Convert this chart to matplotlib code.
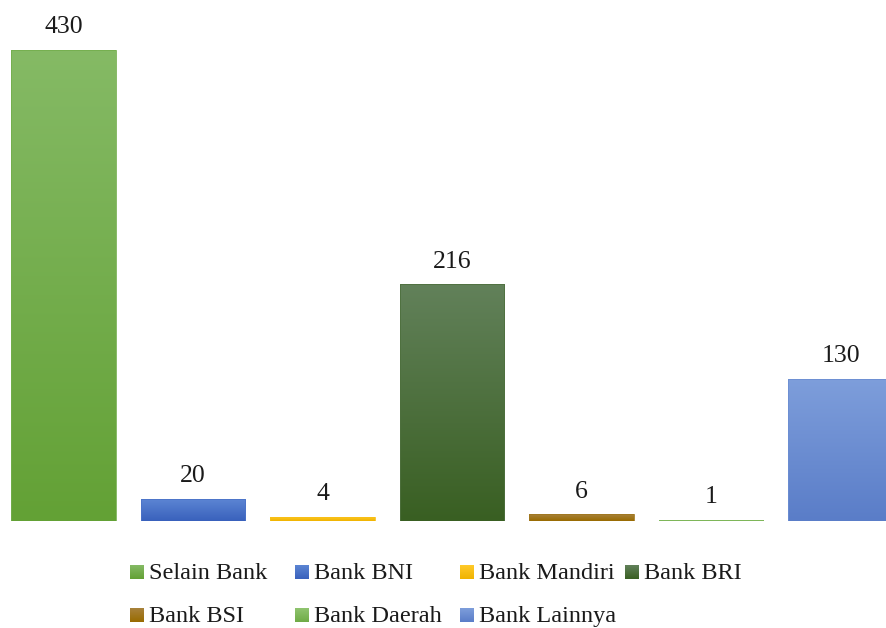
import numpy as np
import matplotlib
matplotlib.use("Agg")
import matplotlib.pyplot as plt
from matplotlib.colors import LinearSegmentedColormap, to_rgb

# Data
categories = ["Selain Bank", "Bank BNI", "Bank Mandiri", "Bank BRI",
              "Bank BSI", "Bank Daerah", "Bank Lainnya"]
values = [430, 20, 4, 216, 6, 1, 130]
top_colors = ["#85ba65", "#5c85d3", "#ffca2a", "#62815a",
              "#a8823c", "#90c470", "#7e9edb"]
bottom_colors = ["#63a135", "#3961bc", "#f0b300", "#395f22",
                 "#996b00", "#6fab46", "#5a7dc8"]

FONT = ["Liberation Serif", "DejaVu Serif"]
FS_LEGEND = 17.5
FS_VALUE = 18.5

W, H = 887, 628
fig = plt.figure(figsize=(W / 100, H / 100), dpi=100)
fig.patch.set_facecolor("white")

# Plot area: category slots span the full width, baseline near the bottom
slot = 129.5
left_px = 63.5 - 0.5 * slot
ax = fig.add_axes([left_px / W, (H - 521) / H, 7 * slot / W, 471 / H])
ax.set_xlim(-0.5, 6.5)
ax.set_ylim(0, max(values))
ax.axis("off")

x = np.arange(len(categories))
bars = ax.bar(x, values, width=0.81, color="none", edgecolor="none")

grad = np.linspace(1, 0, 256).reshape(-1, 1)
for bar, c_top, c_bot, v in zip(bars, top_colors, bottom_colors, values):
    cmap = LinearSegmentedColormap.from_list("g", [c_bot, c_top])
    x0, y0 = bar.get_x(), bar.get_y()
    w, h = bar.get_width(), bar.get_height()
    img = ax.imshow(grad, cmap=cmap, vmin=0, vmax=1, aspect="auto",
                    extent=(x0, x0 + w, y0, y0 + h), origin="upper",
                    interpolation="bilinear", zorder=2)
    img.set_clip_path(bar)
    # faint outline so very small bars stay visible
    mid = tuple((a + b) / 2 for a, b in zip(to_rgb(c_top), to_rgb(c_bot)))
    ax.add_patch(plt.Rectangle((x0, y0), w, h, fill=False,
                               edgecolor=mid, linewidth=0.6, zorder=3))
    ax.annotate(f"{v}", xy=(x0 + w / 2, y0 + h), xytext=(0, 12),
                textcoords="offset points", ha="center", va="baseline",
                fontsize=FS_VALUE, family=FONT, color="#1a1a1a", zorder=4)

# Legend: four equal-width columns, two rows
lg = fig.add_axes([0, 0, 1, 1], zorder=5)
lg.axis("off")
col_x = [130, 295, 460, 625]
row_y = [572, 615]
sq = 14
for i, (name, c_top, c_bot) in enumerate(zip(categories, top_colors, bottom_colors)):
    r, c = divmod(i, 4)
    mx, my = col_x[c], row_y[r]
    cmap = LinearSegmentedColormap.from_list("g", [c_bot, c_top])
    lg.imshow(grad, cmap=cmap, vmin=0, vmax=1, aspect="auto",
              extent=(mx, mx + sq, my + sq / 2, my - sq / 2),
              origin="upper", interpolation="bilinear")
    lg.text(mx + sq + 5, my + 7, name, ha="left", va="baseline",
            fontsize=FS_LEGEND, family=FONT, color="#1a1a1a")
lg.set_xlim(0, W)
lg.set_ylim(H, 0)

fig.savefig("out.png", dpi=100, facecolor="white")
